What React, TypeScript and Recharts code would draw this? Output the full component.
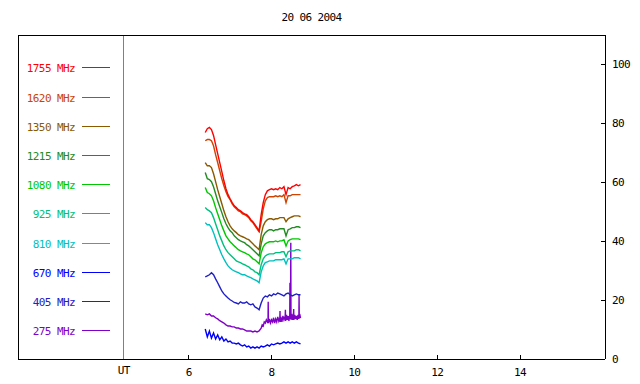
import React from 'react';
import { LineChart, Line, XAxis, YAxis, ReferenceLine, Legend } from 'recharts';

const title = '20 06 2004';

// UT hours, shared by the upper channels
const times = [
  6.40, 6.45, 6.50, 6.55, 6.60, 6.65, 6.70, 6.75, 6.80, 6.85,
  6.90, 6.95, 7.00, 7.05, 7.10, 7.15, 7.20, 7.25, 7.30, 7.35,
  7.40, 7.45, 7.50, 7.55, 7.60, 7.65, 7.70, 7.75, 7.80, 7.85,
  7.90, 7.95, 8.00, 8.05, 8.10, 8.15, 8.20, 8.25, 8.30, 8.35,
  8.40, 8.45, 8.50, 8.55, 8.60, 8.65, 8.70,
];

const f1755 = [
  76.9, 78.2, 78.6, 77.9, 75.9, 72.8, 69.7, 66.7, 63.6, 60.5,
  57.8, 55.8, 54.4, 53.1, 52.0, 51.4, 50.7, 50.3, 49.7, 49.3,
  49.0, 48.3, 47.3, 46.6, 45.6, 44.6, 43.5, 49.0, 53.1, 55.8,
  57.1, 57.5, 57.8, 57.5, 57.8, 57.5, 58.2, 57.8, 58.5, 55.8,
  58.2, 57.8, 58.5, 58.8, 59.2, 58.8, 59.2,
];
const f1620 = [
  74.1, 74.5, 74.5, 74.1, 72.4, 69.4, 66.7, 63.9, 61.2, 58.8,
  56.8, 55.1, 54.1, 52.7, 51.7, 51.0, 50.3, 50.0, 49.3, 49.0,
  48.6, 48.0, 46.9, 46.3, 45.2, 44.2, 43.2, 46.6, 51.0, 53.7,
  54.8, 55.1, 55.1, 55.1, 55.4, 55.1, 55.4, 55.1, 55.8, 53.1,
  55.4, 55.4, 55.8, 55.8, 55.8, 55.8, 55.8,
];
const f1350 = [
  66.7, 65.6, 65.6, 65.0, 62.9, 60.2, 57.5, 55.1, 52.7, 50.3,
  48.3, 46.6, 45.2, 44.2, 43.5, 42.9, 42.2, 41.8, 41.5, 41.2,
  40.8, 40.5, 39.8, 39.1, 38.4, 37.8, 37.1, 42.2, 45.2, 46.6,
  47.3, 47.6, 47.6, 47.3, 47.6, 47.6, 48.0, 48.0, 48.0, 46.6,
  47.6, 48.0, 48.3, 48.6, 48.6, 48.6, 48.3,
];
const f1215 = [
  63.3, 61.2, 60.9, 60.2, 58.5, 56.1, 53.7, 51.7, 49.7, 47.6,
  45.9, 44.6, 43.5, 42.9, 41.8, 41.2, 40.5, 40.1, 39.8, 39.5,
  38.8, 38.4, 37.8, 37.1, 36.4, 35.7, 35.0, 39.1, 41.8, 42.9,
  43.5, 43.9, 43.9, 43.5, 43.9, 43.9, 44.2, 44.2, 44.2, 41.8,
  43.9, 44.2, 44.6, 44.6, 44.9, 44.9, 44.6,
];
const f1080 = [
  58.2, 56.5, 56.1, 55.4, 53.7, 51.4, 49.3, 47.3, 45.2, 43.5,
  41.8, 40.8, 39.8, 39.1, 38.4, 37.8, 37.1, 36.7, 36.4, 36.1,
  35.7, 35.4, 34.7, 34.0, 33.7, 33.0, 32.3, 36.1, 38.1, 39.1,
  39.5, 39.8, 39.8, 39.8, 40.1, 39.8, 40.1, 40.1, 40.5, 38.4,
  40.1, 40.5, 40.8, 40.8, 40.8, 40.8, 40.5,
];
const f925 = [
  51.4, 50.7, 50.3, 49.7, 48.0, 45.9, 43.9, 41.8, 40.1, 38.4,
  37.1, 36.1, 35.4, 34.7, 34.0, 33.3, 33.0, 32.7, 32.3, 32.0,
  31.6, 31.3, 30.6, 30.3, 29.6, 29.3, 28.6, 32.0, 34.0, 35.0,
  35.4, 35.7, 35.7, 35.7, 36.1, 36.1, 36.1, 36.4, 36.4, 34.7,
  36.4, 36.7, 36.7, 36.7, 37.1, 37.1, 36.7,
];
const f810 = [
  46.3, 45.6, 45.6, 44.6, 42.9, 40.8, 38.8, 37.1, 35.4, 34.0,
  32.7, 31.6, 30.9, 30.3, 29.9, 29.6, 29.3, 28.9, 28.6, 28.6,
  28.2, 27.9, 27.6, 27.2, 26.9, 26.5, 25.9, 29.6, 31.6, 32.7,
  33.0, 33.3, 33.3, 33.3, 33.7, 33.7, 33.7, 33.7, 34.0, 32.3,
  34.0, 34.0, 34.0, 34.4, 34.4, 34.4, 34.0,
];
const f670 = [
  10.2, 7.5, 9.5, 7.1, 8.8, 6.8, 8.2, 6.5, 7.5, 6.1,
  6.8, 5.8, 6.1, 5.4, 5.4, 5.1, 5.4, 4.8, 4.4, 4.8,
  4.1, 4.4, 3.7, 4.1, 3.7, 4.1, 3.7, 4.4, 4.1, 4.4,
  4.8, 4.4, 5.1, 4.8, 5.1, 5.4, 5.1, 5.4, 5.8, 5.4,
  5.8, 5.4, 5.8, 5.4, 5.8, 5.4, 5.1,
];
const f405 = [
  27.9, 28.2, 28.6, 29.3, 28.6, 27.2, 25.9, 24.5, 23.1, 22.1,
  21.4, 20.7, 20.1, 19.7, 19.2, 19.0, 18.7, 19.4, 19.0, 19.0,
  19.4, 18.7, 18.4, 18.7, 17.7, 17.3, 16.7, 19.0, 20.7, 21.4,
  21.1, 21.8, 21.4, 22.1, 21.8, 22.4, 22.1, 21.8, 21.4, 22.1,
  22.4, 21.8, 21.4, 21.8, 22.1, 21.8, 21.8,
];
// 275 MHz has its own time stamps because of the narrow bursts
const f275: [number, number][] = [
  [6.40, 15.3], [6.45, 15.0], [6.50, 15.3], [6.55, 14.6], [6.60, 14.6],
  [6.65, 14.0], [6.70, 13.6], [6.75, 13.0], [6.80, 12.6], [6.85, 12.2],
  [6.90, 11.6], [6.95, 11.2], [7.00, 11.2], [7.05, 10.9], [7.10, 10.9],
  [7.15, 10.5], [7.20, 10.5], [7.25, 10.2], [7.30, 10.2], [7.35, 9.9],
  [7.40, 9.5], [7.45, 9.5], [7.50, 9.5], [7.55, 9.2], [7.60, 9.5],
  [7.65, 9.2], [7.70, 9.5], [7.75, 10.5], [7.775, 11.6], [7.80, 11.2],
  [7.825, 12.6], [7.85, 12.2], [7.875, 13.3], [7.90, 12.6], [7.915, 12.2],
  [7.92, 19.4], [7.925, 12.2], [7.95, 13.6], [7.975, 12.2], [8.00, 13.3],
  [8.025, 12.6], [8.05, 14.0], [8.075, 12.2], [8.10, 13.6], [8.125, 12.6],
  [8.15, 14.3], [8.175, 12.9], [8.20, 13.9], [8.205, 16.3], [8.21, 12.6],
  [8.225, 14.3], [8.25, 12.6], [8.275, 14.6], [8.30, 13.3], [8.33, 14.6],
  [8.335, 16.7], [8.34, 12.9], [8.36, 15.0], [8.38, 13.3], [8.40, 14.6],
  [8.42, 12.9], [8.44, 15.0], [8.445, 25.9], [8.45, 13.6], [8.46, 15.3],
  [8.465, 39.5], [8.47, 13.3], [8.49, 15.3], [8.51, 13.3], [8.53, 15.0],
  [8.535, 17.0], [8.54, 13.3], [8.56, 15.0], [8.58, 13.6], [8.60, 14.6],
  [8.62, 13.3], [8.64, 15.0], [8.66, 13.6], [8.665, 21.8], [8.67, 13.9],
  [8.69, 14.6], [8.70, 13.9],
];

const bands = ['1755 MHz', '1620 MHz', '1350 MHz', '1215 MHz', '1080 MHz', '925 MHz', '810 MHz', '670 MHz', '405 MHz', '275 MHz'];
const colors = ['#ff0000', '#cc4400', '#8b5a00', '#228b22', '#00c800', '#00c080', '#00c0c0', '#0000ff', '#2020c8', '#8000c8'];

const onGrid = (vals: number[]) => times.map((t, i) => ({ t, v: vals[i] }));
const seriesData = [
  onGrid(f1755), onGrid(f1620), onGrid(f1350), onGrid(f1215), onGrid(f1080),
  onGrid(f925), onGrid(f810), onGrid(f670), onGrid(f405),
  f275.map(([t, v]) => ({ t, v })),
];
const series = bands.map((name, i) => ({ name, color: colors[i], data: seriesData[i] }));

const FONT = '"DejaVu Sans Mono", monospace';
const X_MIN = 1.88;
const X_MAX = 16.05;
const UT_AT = 4.434;
const xTicks = [UT_AT, 6, 8, 10, 12, 14];
const topTicks = [6, 8, 10, 12, 14];
const yTicks = [0, 20, 40, 60, 80, 100];

const textStyle = { fontFamily: FONT, fontSize: 11, letterSpacing: -0.6 };

const BottomTick = (props: any) => {
  const { x, y, payload } = props;
  const isUT = payload.value === UT_AT;
  return (
    <g>
      {!isUT && <line x1={x} x2={x} y1={y} y2={y - 4} stroke="#000" shapeRendering="crispEdges" />}
      <text x={x} y={y + (isUT ? 15 : 17)} textAnchor="middle" fill="#000" style={textStyle}>
        {isUT ? 'UT' : payload.value}
      </text>
    </g>
  );
};

const TopTick = (props: any) => {
  const { x, y } = props;
  return <line x1={x} x2={x} y1={y} y2={y + 4} stroke="#000" shapeRendering="crispEdges" />;
};

const RightTick = (props: any) => {
  const { x, y, payload } = props;
  return (
    <g>
      <line x1={x - 4} x2={x} y1={y} y2={y} stroke="#000" shapeRendering="crispEdges" />
      <text x={x + 7} y={y + 4} textAnchor="start" fill="#000" style={textStyle}>
        {payload.value}
      </text>
    </g>
  );
};

const LegendBox = () => (
  <svg width={130} height={384}>
    {series.map((s, i) => {
      const y = Math.round(67.3 + i * 29.2) + 0.5;
      return (
        <g key={s.name}>
          <text x={75} y={y + 4} textAnchor="end" fill={s.color} style={textStyle}>{s.name}</text>
          <line x1={82} x2={110} y1={y} y2={y} stroke={s.color} />
        </g>
      );
    })}
  </svg>
);

export default function App() {
  const drawOrder = [...series].reverse();
  return (
    <div style={{ position: 'absolute', left: 0, top: 0, width: 640, height: 384, background: '#fff' }}>
      <div
        style={{
          position: 'absolute', left: 18, top: 12, width: 587, textAlign: 'center',
          fontFamily: FONT, fontSize: 11, letterSpacing: -0.6, lineHeight: '12px', color: '#000',
        }}
      >
        {title}
      </div>
      <LineChart width={640} height={384} margin={{ top: 30, right: 5, bottom: 5, left: 18 }}>
        <XAxis
          dataKey="t"
          type="number"
          domain={[X_MIN, X_MAX]}
          ticks={xTicks}
          interval={0}
          height={20}
          tickSize={0}
          tickMargin={0}
          tickLine={false}
          axisLine={{ stroke: '#000', shapeRendering: 'crispEdges' }}
          tick={BottomTick}
          allowDataOverflow
        />
        <XAxis
          xAxisId="top"
          orientation="top"
          type="number"
          domain={[X_MIN, X_MAX]}
          ticks={topTicks}
          interval={0}
          height={5}
          tickSize={0}
          tickMargin={0}
          tickLine={false}
          axisLine={{ stroke: '#000', shapeRendering: 'crispEdges' }}
          tick={TopTick}
          allowDataOverflow
        />
        <YAxis
          orientation="right"
          type="number"
          domain={[0, 110]}
          ticks={yTicks}
          interval={0}
          width={30}
          tickSize={0}
          tickMargin={0}
          tickLine={false}
          axisLine={{ stroke: '#000', shapeRendering: 'crispEdges' }}
          tick={RightTick}
          allowDataOverflow
        />
        <ReferenceLine x={X_MIN} stroke="#000" shapeRendering="crispEdges" />
        <ReferenceLine x={UT_AT} stroke="#808080" shapeRendering="crispEdges" />
        <Legend
          layout="vertical"
          align="center"
          verticalAlign="middle"
          wrapperStyle={{ left: 0, top: 0, width: 130, height: 384 }}
          content={LegendBox}
        />
        {drawOrder.map((s) => (
          <Line
            key={s.name}
            name={s.name}
            data={s.data}
            dataKey="v"
            type="linear"
            stroke={s.color}
            strokeWidth={1.4}
            dot={false}
            activeDot={false}
            isAnimationActive={false}
          />
        ))}
      </LineChart>
    </div>
  );
}
